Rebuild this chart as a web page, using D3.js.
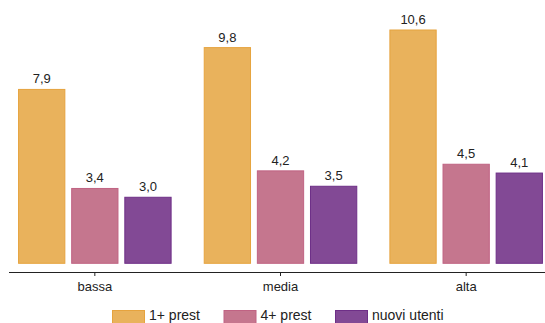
<!DOCTYPE html>
<html>
<head>
<meta charset="utf-8">
<script src="https://cdn.jsdelivr.net/npm/d3@7"></script>
<style>
  html, body { margin: 0; padding: 0; background: #fff; }
  svg { display: block; font-family: "Liberation Sans", Arial, Helvetica, sans-serif; }
</style>
</head>
<body>
<svg id="chart" width="545" height="323"></svg>
<script>
// Categories along the x axis
const categories = ["bassa", "media", "alta"];
// Series names (legend entries)
const seriesNames = ["1+ prest", "4+ prest", "nuovi utenti"];
// Values per series, in category order
const values1 = [7.9, 9.8, 10.6];
const values4 = [3.4, 4.2, 4.5];
const valuesNew = [3.0, 3.5, 4.1];
const seriesValues = [values1, values4, valuesNew];

const fills = ["#e9b25c", "#c5768e", "#824995"];
const strokes = ["#e6a33e", "#c06383", "#6e2f87"];

const svg = d3.select("#chart");
const W = 545;

const x0 = d3.scaleBand().domain(categories).range([2, 559]).paddingInner(0.173).paddingOuter(0.0865);
const x1 = d3.scaleBand().domain(d3.range(seriesNames.length)).range([0, x0.bandwidth()]).paddingInner(0.11).paddingOuter(0);
const y = d3.scaleLinear().domain([0, 10.6]).range([263.3, 30]);

const fmt = v => d3.format(".1f")(v).replace(".", ",");

// Bars grouped by category
const groups = svg.append("g").selectAll("g")
  .data(categories)
  .join("g")
  .attr("transform", d => `translate(${x0(d)},0)`);

groups.each(function(cat, ci) {
  const g = d3.select(this);
  seriesValues.forEach((vals, si) => {
    const v = vals[ci];
    g.append("rect")
      .attr("x", x1(si) + 0.5)
      .attr("y", y(v))
      .attr("width", x1.bandwidth() - 1)
      .attr("height", y(0) - y(v))
      .attr("fill", fills[si])
      .attr("stroke", strokes[si])
      .attr("stroke-width", 1);
    g.append("text")
      .attr("x", x1(si) + x1.bandwidth() / 2)
      .attr("y", y(v) - 6)
      .attr("text-anchor", "middle")
      .attr("font-size", 13)
      .attr("fill", "#222")
      .text(fmt(v));
  });
});

// Category axis
const axis = svg.append("g")
  .attr("transform", "translate(0,272)")
  .call(d3.axisBottom(x0).tickSize(4).tickSizeOuter(0));
axis.select(".domain").attr("d", `M9,0.5H${W}`).attr("stroke", "#222");
axis.selectAll(".tick line").attr("stroke", "#222");
axis.selectAll(".tick text")
  .attr("font-size", 13)
  .attr("font-family", "Liberation Sans, Arial, sans-serif")
  .attr("fill", "#222")
  .attr("dy", "0.95em");

// Legend along the bottom edge
const legendX = [112, 223.5, 335];
const legend = svg.append("g");
seriesNames.forEach((name, i) => {
  legend.append("rect")
    .attr("x", legendX[i] + 0.5)
    .attr("y", 310.5)
    .attr("width", 32)
    .attr("height", 16)
    .attr("fill", fills[i])
    .attr("stroke", strokes[i]);
  legend.append("text")
    .attr("x", legendX[i] + 37)
    .attr("y", 320)
    .attr("font-size", 14)
    .attr("fill", "#222")
    .text(name);
});
</script>
</body>
</html>
